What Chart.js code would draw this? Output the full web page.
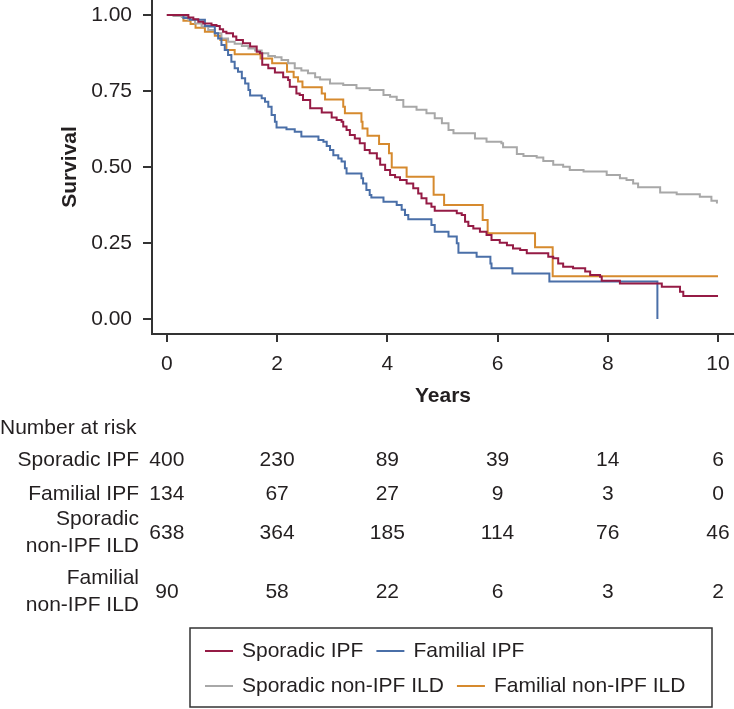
<!DOCTYPE html>
<html>
<head>
<meta charset="utf-8">
<script src="https://cdn.jsdelivr.net/npm/chart.js@4/dist/chart.umd.min.js"></script>
<style>
  html, body { margin: 0; padding: 0; background: #ffffff; }
  #wrap { width: 734px; height: 709px; }
</style>
</head>
<body>
<div id="wrap"><canvas id="c" width="734" height="709"></canvas></div>
<script>
// ---------- DATA ----------
const seriesLabels = ["Sporadic IPF", "Familial IPF", "Sporadic non-IPF ILD", "Familial non-IPF ILD"];
const seriesColors = ["#951b45", "#4a6fa8", "#a8a8a8", "#d68a2e"];

// Kaplan-Meier steps: time (years) and survival after each step
const sporadicIpfT = [0, 0.39, 0.48, 0.57, 0.66, 0.81, 0.90, 0.96, 1.02, 1.08, 1.20, 1.26, 1.38, 1.51, 1.63, 1.69, 1.73, 1.84, 1.96, 2.11, 2.20, 2.23, 2.35, 2.41, 2.47, 2.60, 2.81, 2.99, 3.08, 3.17, 3.20, 3.26, 3.32, 3.41, 3.50, 3.59, 3.68, 3.81, 3.87, 3.96, 4.05, 4.14, 4.23, 4.35, 4.47, 4.56, 4.62, 4.71, 4.80, 4.86, 5.26, 5.35, 5.41, 5.47, 5.56, 5.68, 5.80, 5.89, 6.04, 6.17, 6.28, 6.41, 6.53, 6.92, 7.01, 7.10, 7.19, 7.37, 7.59, 7.68, 7.86, 7.89, 8.22, 8.98, 9.31, 9.37, 10.0];
const sporadicIpfS = [1, 0.992, 0.986, 0.978, 0.972, 0.967, 0.964, 0.953, 0.945, 0.940, 0.929, 0.918, 0.907, 0.896, 0.879, 0.874, 0.836, 0.825, 0.811, 0.795, 0.786, 0.764, 0.742, 0.737, 0.720, 0.693, 0.679, 0.663, 0.655, 0.649, 0.633, 0.622, 0.605, 0.594, 0.578, 0.556, 0.545, 0.528, 0.507, 0.490, 0.474, 0.466, 0.457, 0.446, 0.430, 0.413, 0.397, 0.380, 0.369, 0.356, 0.348, 0.342, 0.320, 0.306, 0.298, 0.287, 0.276, 0.260, 0.251, 0.243, 0.232, 0.227, 0.216, 0.205, 0.200, 0.183, 0.172, 0.167, 0.156, 0.145, 0.139, 0.126, 0.117, 0.106, 0.090, 0.076, 0.076];

const familialIpfT = [0, 0.30, 0.42, 0.69, 0.78, 0.87, 0.93, 0.99, 1.05, 1.11, 1.17, 1.23, 1.29, 1.36, 1.42, 1.48, 1.51, 1.72, 1.78, 1.84, 1.90, 1.96, 1.99, 2.17, 2.32, 2.44, 2.75, 2.84, 2.90, 2.96, 3.02, 3.11, 3.17, 3.23, 3.26, 3.53, 3.56, 3.62, 3.68, 3.71, 3.93, 4.17, 4.26, 4.32, 4.38, 4.80, 4.86, 5.11, 5.26, 5.29, 5.62, 5.87, 5.89, 6.27, 6.94, 8.90];
const familialIpfS = [1, 0.990, 0.984, 0.964, 0.962, 0.940, 0.923, 0.901, 0.885, 0.868, 0.846, 0.825, 0.813, 0.792, 0.775, 0.753, 0.735, 0.726, 0.715, 0.698, 0.671, 0.649, 0.630, 0.624, 0.616, 0.600, 0.589, 0.583, 0.569, 0.556, 0.539, 0.528, 0.518, 0.496, 0.479, 0.463, 0.446, 0.424, 0.408, 0.400, 0.386, 0.375, 0.359, 0.342, 0.328, 0.309, 0.287, 0.271, 0.249, 0.218, 0.205, 0.183, 0.167, 0.150, 0.123, 0];

const sporadicNonIpfT = [0, 0.12, 0.27, 0.39, 0.51, 0.63, 0.75, 0.87, 0.99, 1.11, 1.23, 1.36, 1.48, 1.60, 1.72, 1.84, 1.96, 2.08, 2.20, 2.32, 2.44, 2.56, 2.69, 2.78, 2.96, 3.20, 3.44, 3.68, 3.93, 4.05, 4.17, 4.29, 4.53, 4.71, 4.86, 4.99, 5.11, 5.20, 5.59, 5.80, 6.07, 6.10, 6.35, 6.47, 6.71, 6.83, 7.01, 7.19, 7.31, 7.56, 7.98, 8.22, 8.34, 8.46, 8.55, 8.95, 9.25, 9.67, 9.88, 9.98];
const sporadicNonIpfS = [1, 0.997, 0.993, 0.984, 0.972, 0.962, 0.951, 0.940, 0.923, 0.912, 0.905, 0.898, 0.890, 0.883, 0.874, 0.865, 0.861, 0.852, 0.841, 0.825, 0.817, 0.808, 0.795, 0.788, 0.775, 0.770, 0.759, 0.753, 0.737, 0.731, 0.720, 0.698, 0.688, 0.677, 0.660, 0.644, 0.622, 0.611, 0.594, 0.583, 0.578, 0.565, 0.543, 0.536, 0.531, 0.520, 0.507, 0.501, 0.490, 0.485, 0.474, 0.463, 0.457, 0.446, 0.433, 0.416, 0.410, 0.402, 0.389, 0.380];

const familialNonIpfT = [0, 0.30, 0.43, 0.52, 0.69, 0.87, 0.97, 1.08, 1.23, 1.70, 1.91, 2.18, 2.30, 2.38, 2.46, 2.81, 2.87, 3.20, 3.23, 3.53, 3.55, 3.64, 3.85, 4.03, 4.08, 4.35, 4.84, 5.03, 5.73, 5.82, 6.68, 7.00, 10.0];
const familialNonIpfS = [1, 0.981, 0.970, 0.958, 0.945, 0.932, 0.918, 0.885, 0.871, 0.857, 0.841, 0.813, 0.795, 0.781, 0.762, 0.742, 0.722, 0.698, 0.677, 0.649, 0.627, 0.603, 0.576, 0.545, 0.498, 0.468, 0.409, 0.375, 0.326, 0.282, 0.236, 0.141, 0.141];

// axis ticks
const xTicks = [0, 2, 4, 6, 8, 10];
const yTicks = [0, 0.25, 0.5, 0.75, 1.0];

// number at risk table
const riskYears = [0, 2, 4, 6, 8, 10];
const riskRowLabels = [["Sporadic IPF"], ["Familial IPF"], ["Sporadic", "non-IPF ILD"], ["Familial", "non-IPF ILD"]];
const riskSporadicIpf = [400, 230, 89, 39, 14, 6];
const riskFamilialIpf = [134, 67, 27, 9, 3, 0];
const riskSporadicNonIpf = [638, 364, 185, 114, 76, 46];
const riskFamilialNonIpf = [90, 58, 22, 6, 3, 2];

// ---------- BUILD ----------
const zip = (t, s) => t.map((v, i) => ({ x: v, y: s[i] }));
const seriesPoints = [
  zip(sporadicIpfT, sporadicIpfS),
  zip(familialIpfT, familialIpfS),
  zip(sporadicNonIpfT, sporadicNonIpfS),
  zip(familialNonIpfT, familialNonIpfS)
];
const riskRows = [riskSporadicIpf, riskFamilialIpf, riskSporadicNonIpf, riskFamilialNonIpf];

const FONT = "'Liberation Sans', Arial, Helvetica, sans-serif";
const TXT = "#231f20";
const AX = "#333333";

const annotPlugin = {
  id: 'annot',
  afterDraw(chart) {
    const ctx = chart.ctx;
    const ca = chart.chartArea;
    const xs = chart.scales.x;
    ctx.save();
    ctx.fillStyle = TXT;

    // axis titles
    ctx.font = "bold 21px " + FONT;
    ctx.textAlign = "center";
    ctx.textBaseline = "middle";
    ctx.fillText("Years", (ca.left + ca.right) / 2, 396);
    ctx.save();
    ctx.translate(70, (ca.top + ca.bottom) / 2);
    ctx.rotate(-Math.PI / 2);
    ctx.fillText("Survival", 0, 0);
    ctx.restore();

    // number at risk table
    ctx.font = "21px " + FONT;
    ctx.textAlign = "left";
    ctx.fillText("Number at risk", 0, 428);

    const rowY = [460, 494, 533, 592];
    const lineGap = 27;
    riskRows.forEach((vals, r) => {
      const lab = riskRowLabels[r];
      ctx.textAlign = "right";
      if (lab.length === 1) {
        ctx.fillText(lab[0], 139, rowY[r]);
      } else {
        ctx.fillText(lab[0], 139, rowY[r] - lineGap / 2);
        ctx.fillText(lab[1], 139, rowY[r] + lineGap / 2);
      }
      ctx.textAlign = "center";
      vals.forEach((v, i) => {
        ctx.fillText(String(v), xs.getPixelForValue(riskYears[i]), rowY[r]);
      });
    });

    // legend box
    const bx = 190, by = 628, bw = 522, bh = 79;
    ctx.strokeStyle = AX;
    ctx.lineWidth = 1.5;
    ctx.strokeRect(bx, by, bw, bh);
    const rows = [[0, 1], [2, 3]];
    const rowYs = [651, 686];
    const lineLen = 28, gapLT = 9, gapItem = 13;
    ctx.textAlign = "left";
    rows.forEach((items, ri) => {
      let x = 205;
      items.forEach(di => {
        const ds = chart.data.datasets[di];
        ctx.strokeStyle = ds.borderColor;
        ctx.lineWidth = 2;
        ctx.beginPath();
        ctx.moveTo(x, rowYs[ri]);
        ctx.lineTo(x + lineLen, rowYs[ri]);
        ctx.stroke();
        x += lineLen + gapLT;
        ctx.fillStyle = TXT;
        ctx.fillText(ds.label, x, rowYs[ri]);
        x += ctx.measureText(ds.label).width + gapItem;
      });
    });
    ctx.restore();
  }
};

const datasets = seriesPoints.map((pts, i) => ({
  label: seriesLabels[i],
  data: pts,
  borderColor: seriesColors[i],
  backgroundColor: seriesColors[i],
  borderWidth: 2,
  stepped: 'before',
  pointRadius: 0,
  fill: false,
  borderJoinStyle: 'miter',
  borderCapStyle: 'butt'
}));

new Chart(document.getElementById('c'), {
  type: 'line',
  data: { datasets },
  plugins: [annotPlugin],
  options: {
    responsive: false,
    animation: false,
    layout: { padding: 0 },
    plugins: { legend: { display: false }, tooltip: { enabled: false } },
    scales: {
      x: {
        type: 'linear',
        min: -0.27,
        max: 10.29,
        afterBuildTicks: s => { s.ticks = xTicks.map(v => ({ value: v })); },
        afterFit: s => { s.height = 375; s.paddingLeft = 0; s.paddingRight = 0; },
        grid: { drawOnChartArea: false, drawTicks: true, tickLength: 8, color: AX, lineWidth: 2 },
        border: { display: true, color: AX, width: 2 },
        ticks: { color: TXT, font: { family: FONT, size: 21 }, padding: 10, maxRotation: 0, autoSkip: false }
      },
      y: {
        type: 'linear',
        min: -0.0493,
        max: 1.0493,
        afterBuildTicks: s => { s.ticks = yTicks.map(v => ({ value: v })); },
        afterFit: s => { s.width = 152; s.paddingTop = 0; s.paddingBottom = 0; },
        grid: { drawOnChartArea: false, drawTicks: true, tickLength: 9, color: AX, lineWidth: 2 },
        border: { display: true, color: AX, width: 2 },
        ticks: { color: TXT, font: { family: FONT, size: 21 }, padding: 11, autoSkip: false,
                 callback: v => Number(v).toFixed(2) }
      }
    }
  }
});
</script>
</body>
</html>
